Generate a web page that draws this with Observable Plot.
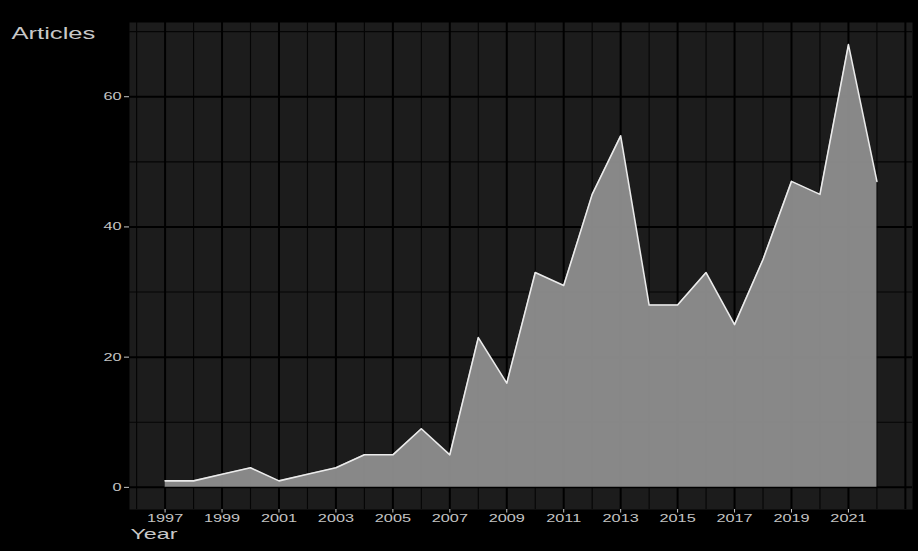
<!DOCTYPE html>
<html>
<head>
<meta charset="utf-8">
<script src="https://cdn.jsdelivr.net/npm/d3@7"></script>
<script src="https://cdn.jsdelivr.net/npm/@observablehq/plot@0.6"></script>
<style>
  html, body { margin: 0; padding: 0; background: #000; }
  #chart { width: 918px; height: 551px; overflow: hidden; }
</style>
</head>
<body>
<div id="chart"></div>
<script>
const years = [1997,1998,1999,2000,2001,2002,2003,2004,2005,2006,2007,2008,2009,2010,2011,2012,2013,2014,2015,2016,2017,2018,2019,2020,2021,2022];
const articles = [1,1,2,3,1,2,3,5,5,9,5,23,16,33,31,45,54,28,28,33,25,35,47,45,68,47];
const xTicks = [1997,1999,2001,2003,2005,2007,2009,2011,2013,2015,2017,2019,2021];
const xMajorGrid = [1997,1999,2001,2003,2005,2007,2009,2011,2013,2015,2017,2019,2021,2023];
const xMinorGrid = [1996,1998,2000,2002,2004,2006,2008,2010,2012,2014,2016,2018,2020,2022];
const yTicks = [0,20,40,60];
const yMinorGrid = [10,30,50,70];
const yLabel = "Articles";
const xLabel = "Year";

const data = years.map((y, i) => ({year: y, n: articles[i]}));

const plot = Plot.plot({
  width: 918,
  height: 551,
  marginLeft: 129,
  marginRight: 6,
  marginTop: 22,
  marginBottom: 42,
  style: {background: "#000", fontFamily: "'Liberation Sans', Arial, sans-serif"},
  x: {domain: [1995.75, 2023.25]},
  y: {domain: [-3.4, 71.4]},
  marks: [
    Plot.frame({fill: "#1c1c1c", stroke: null}),
    Plot.ruleX(xMinorGrid, {stroke: "#050505", strokeWidth: 1.1, clip: true}),
    Plot.ruleY(yMinorGrid, {stroke: "#050505", strokeWidth: 1.1, clip: true}),
    Plot.ruleX(xMajorGrid, {stroke: "#000", strokeWidth: 2, clip: true}),
    Plot.ruleY(yTicks, {stroke: "#000", strokeWidth: 2, clip: true}),
    Plot.areaY(data, {x: "year", y: "n", fill: "#8c8c8c", fillOpacity: 0.96}),
    Plot.lineY(data, {x: "year", y: "n", stroke: "#ebebeb", strokeWidth: 1.6}),
    Plot.axisX({ticks: xTicks, tickFormat: "d", tickSize: 3.5, tickPadding: 2, fontSize: 10.5, color: "#c4c4c4", label: null}),
    Plot.axisY({ticks: yTicks, tickSize: 5, tickPadding: 3, fontSize: 10.5, color: "#c4c4c4", label: null}),
    Plot.text([yLabel], {text: d => d, frameAnchor: "top-left", dx: -118, dy: 5, textAnchor: "start", fontSize: 16.5, fill: "#c8c8c8"}),
    Plot.text([xLabel], {text: d => d, frameAnchor: "bottom-left", dx: 1, dy: 29, textAnchor: "start", fontSize: 15, fill: "#c8c8c8"})
  ]
});
document.getElementById("chart").appendChild(plot);

// reference text appears horizontally stretched; widen glyphs accordingly
d3.select(plot).selectAll("text").each(function() {
  const w = this.getComputedTextLength();
  if (w > 0) {
    d3.select(this).attr("textLength", w * 1.55).attr("lengthAdjust", "spacingAndGlyphs");
  }
});
</script>
</body>
</html>
